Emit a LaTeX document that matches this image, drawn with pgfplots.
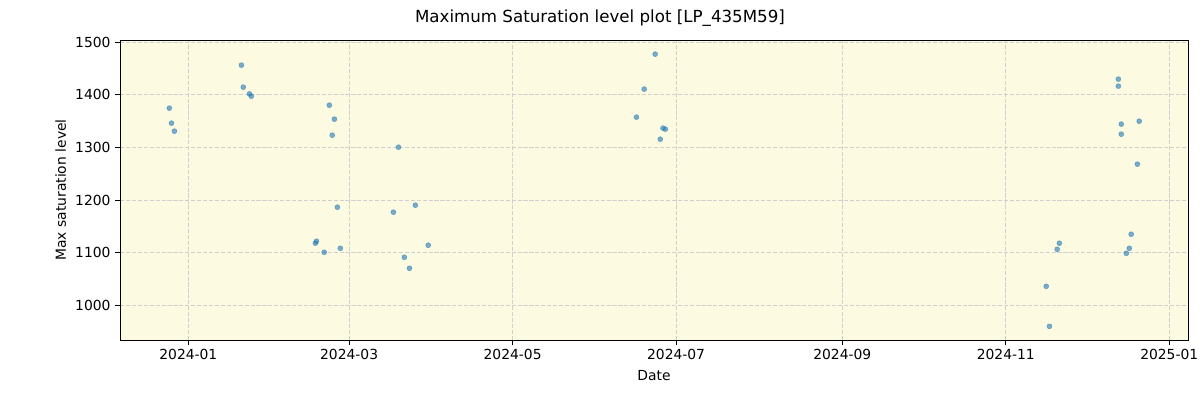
\documentclass[border=0pt]{standalone}
\usepackage{fontspec}
\setmainfont{DejaVu Sans}
\usepackage{pgfplots}
\pgfplotsset{compat=1.18}
\definecolor{bgc}{RGB}{252,251,226}
\definecolor{ptc}{RGB}{31,119,180}
\definecolor{gridc}{RGB}{208,208,208}
\begin{document}
\begin{tikzpicture}[x=1pt,y=1pt]
\useasboundingbox (-90pt,-45pt) rectangle (810pt,255pt);
\begin{axis}[
  at={(0pt,0pt)}, anchor=south west,
  width=801pt, height=225pt, scale only axis,
  xmin=-25.5, xmax=373.0, ymin=934, ymax=1504.4,
  axis background/.style={fill=bgc},
  xtick={0,60,121,182,244,305,366},
  xticklabels={2024-01,2024-03,2024-05,2024-07,2024-09,2024-11,2025-01},
  ytick={1000,1100,1200,1300,1400,1500},
  yticklabel style={/pgf/number format/.cd,1000 sep={},assume math mode=true},
  /pgf/number format/assume math mode=true,
  tick label style={font=\fontsize{10.4}{12}\selectfont},
  label style={font=\fontsize{10.4}{12}\selectfont},
  xlabel={Date}, ylabel={Max saturation level},
  xlabel style={yshift=-1pt},
  ylabel style={yshift=0pt},
  tick align=outside, major tick length=3.6pt,
  xtick pos=bottom, ytick pos=left,
  grid=major,
  major grid style={gridc, dash pattern=on 3.1pt off 1.35pt, line width=0.8pt},
  axis line style={line width=0.7pt},
  every tick/.style={black, line width=0.7pt},
]
\addplot[only marks, mark=*, mark size=1.9pt,
  mark options={fill=ptc, draw=ptc, fill opacity=0.6, draw opacity=0.6, line width=0.3pt}]
coordinates {
(-7.1,1374.8) (-6.3,1346.3) (-5.2,1331.1)
(19.8,1456.6) (20.5,1414.8) (22.8,1402) (23.5,1397.6)
(52.6,1380.5) (54.5,1353.9) (53.7,1323.4) (55.6,1186.5)
(47.4,1118) (47.8,1121.8) (50.7,1100.8) (56.7,1108.4)
(78.4,1300.6) (76.5,1177) (84.7,1190.3) (80.6,1091.3) (82.5,1070.4) (89.5,1114.2)
(174.2,1477.5) (170.1,1411) (167.2,1357.7) (177.1,1336.8) (178.0,1334.9) (176.1,1315.8)
(347.0,1430) (347.0,1416.7) (348.1,1344.4) (354.8,1350) (348.1,1325.3) (354.1,1268.3)
(351.8,1135.1) (351.1,1108.4) (350.0,1098.9)
(325.0,1118) (324.2,1106.5) (320.1,1036.1) (321.3,960)
};
\end{axis}
\node[font=\fontsize{12.5}{14}\selectfont] at (360pt,241.5pt) {Maximum Saturation level plot [LP\_435M59]};
\end{tikzpicture}
\end{document}
